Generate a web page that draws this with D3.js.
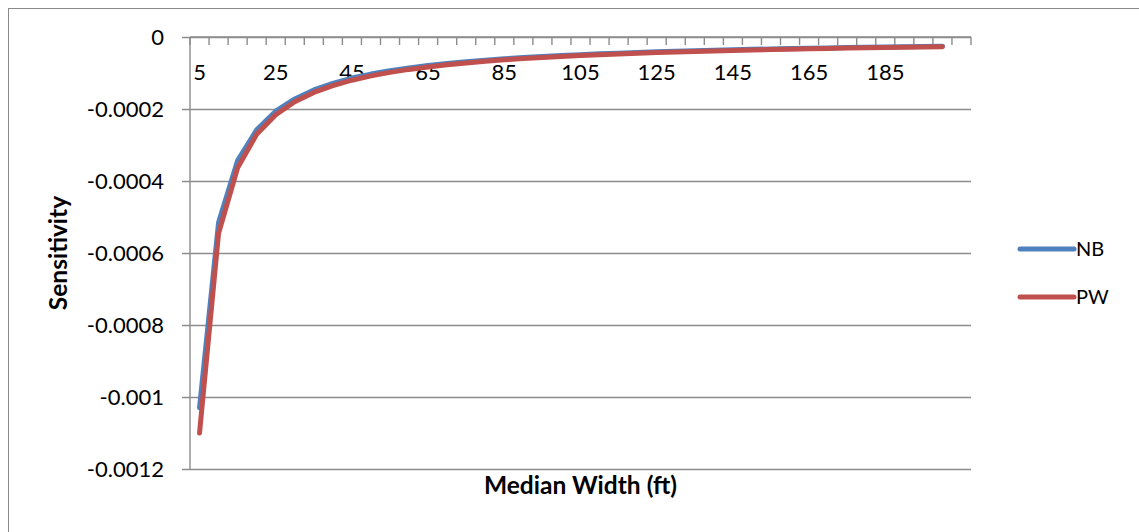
<!DOCTYPE html>
<html>
<head>
<meta charset="utf-8">
<script src="https://cdn.jsdelivr.net/npm/d3@7"></script>
<style>
  html, body { margin: 0; padding: 0; background: #fff; }
  svg { display: block; font-family: Lato, "Open Sans", sans-serif; }
</style>
</head>
<body>
<svg id="chart" width="1139" height="532"></svg>
<script>
// Median width categories (ft); the last slot is an empty category
const widths = [5, 10, 15, 20, 25, 30, 35, 40, 45, 50, 55, 60, 65, 70, 75, 80, 85, 90, 95, 100,
  105, 110, 115, 120, 125, 130, 135, 140, 145, 150, 155, 160, 165, 170, 175, 180, 185, 190, 195, 200, ""];

const nbValues = [-0.00103, -0.000515, -0.000343, -0.000258, -0.000206, -0.000172, -0.000147, -0.000129,
  -0.000114, -0.000103, -0.0000936, -0.0000858, -0.0000792, -0.0000736, -0.0000687, -0.0000644,
  -0.0000606, -0.0000572, -0.0000542, -0.0000515, -0.000049, -0.0000468, -0.0000448, -0.0000429,
  -0.0000412, -0.0000396, -0.0000381, -0.0000368, -0.0000355, -0.0000343, -0.0000332, -0.0000322,
  -0.0000312, -0.0000303, -0.0000294, -0.0000286, -0.0000278, -0.0000271, -0.0000264, -0.0000258];

const pwValues = [-0.0011, -0.000545, -0.000363, -0.00027, -0.000216, -0.00018, -0.000154, -0.000135,
  -0.00012, -0.000108, -0.0000982, -0.00009, -0.0000831, -0.0000771, -0.000072, -0.0000675,
  -0.0000635, -0.00006, -0.0000568, -0.000054, -0.0000514, -0.0000491, -0.000047, -0.000045,
  -0.0000432, -0.0000415, -0.00004, -0.0000386, -0.0000372, -0.000036, -0.0000348, -0.0000338,
  -0.0000327, -0.0000318, -0.0000309, -0.00003, -0.0000292, -0.0000284, -0.0000277, -0.000027];

const yTicks = [0, -0.0002, -0.0004, -0.0006, -0.0008, -0.001, -0.0012];
const yTickLabels = ["0", "-0.0002", "-0.0004", "-0.0006", "-0.0008", "-0.001", "-0.0012"];

const seriesNames = ["NB", "PW"];
const seriesColors = ["#4F81BD", "#C0504D"];

const svg = d3.select("#chart");
const plot = { left: 190, right: 971, top: 37, bottom: 469 };
const tickFont = 22;
const titleFont = 24.5;

// outer chart frame
svg.append("rect")
  .attr("x", 8.5).attr("y", 8.5)
  .attr("width", 1200).attr("height", 600)
  .attr("fill", "none").attr("stroke", "#8a8a8a").attr("stroke-width", 1);

const x = d3.scaleBand()
  .domain(d3.range(widths.length))
  .range([plot.left, plot.right])
  .paddingInner(0).paddingOuter(0);

const y = d3.scaleLinear()
  .domain([-0.0012, 0])
  .range([plot.bottom, plot.top]);

const gridColor = "#8c8c8c";

// horizontal gridlines with outside tick marks
const yAxis = d3.axisLeft(y)
  .tickValues(yTicks)
  .tickSize(-(plot.right - plot.left))
  .tickSizeOuter(0)
  .tickPadding(26)
  .tickFormat((d, i) => yTickLabels[i]);

const gy = svg.append("g")
  .attr("transform", `translate(${plot.left},0)`)
  .call(yAxis);
gy.select(".domain").remove();
gy.selectAll(".tick line")
  .attr("x1", -8)
  .attr("stroke", gridColor)
  .attr("stroke-width", 1.4);
gy.selectAll(".tick text")
  .attr("font-size", tickFont)
  .attr("fill", "#000")
  .attr("font-family", "Lato, 'Open Sans', sans-serif");

// vertical value axis line
svg.append("line")
  .attr("x1", plot.left).attr("x2", plot.left)
  .attr("y1", plot.top).attr("y2", plot.bottom)
  .attr("stroke", gridColor).attr("stroke-width", 1.4);

// category axis sits at y = 0 (top), tick marks between categories
const gx = svg.append("g").attr("transform", `translate(0,${y(0)})`);
const boundaries = d3.range(widths.length + 1).map(i =>
  i < widths.length ? x(i) : x(widths.length - 1) + x.bandwidth());
gx.selectAll("line.cat-tick")
  .data(boundaries)
  .join("line")
  .attr("class", "cat-tick")
  .attr("x1", d => d).attr("x2", d => d)
  .attr("y1", 0).attr("y2", 8)
  .attr("stroke", gridColor).attr("stroke-width", 1.4);
gx.append("line")
  .attr("x1", plot.left).attr("x2", plot.right)
  .attr("y1", 0).attr("y2", 0)
  .attr("stroke", gridColor).attr("stroke-width", 1.4);
gx.selectAll("text.cat-label")
  .data(widths.map((w, i) => ({ w, i })).filter(d => d.i % 4 === 0 && d.w !== ""))
  .join("text")
  .attr("class", "cat-label")
  .attr("x", d => x(d.i) + x.bandwidth() / 2)
  .attr("y", 43)
  .attr("text-anchor", "middle")
  .attr("font-size", tickFont)
  .attr("fill", "#000")
  .text(d => d.w);

// series lines
const line = d3.line()
  .x((d, i) => x(i) + x.bandwidth() / 2)
  .y(d => y(d));

[nbValues, pwValues].forEach((vals, k) => {
  svg.append("path")
    .datum(vals)
    .attr("d", line)
    .attr("fill", "none")
    .attr("stroke", seriesColors[k])
    .attr("stroke-width", 5)
    .attr("stroke-linejoin", "round")
    .attr("stroke-linecap", "round");
});

// axis titles
svg.append("text")
  .attr("x", (plot.left + plot.right) / 2)
  .attr("y", 494)
  .attr("text-anchor", "middle")
  .attr("font-size", titleFont)
  .attr("font-weight", "bold")
  .text("Median Width (ft)");

svg.append("text")
  .attr("transform", `translate(67,${(plot.top + plot.bottom) / 2}) rotate(-90)`)
  .attr("text-anchor", "middle")
  .attr("font-size", titleFont)
  .attr("font-weight", "bold")
  .text("Sensitivity");

// legend
const legend = svg.append("g");
seriesNames.forEach((name, k) => {
  const ly = 249 + k * 48;
  legend.append("line")
    .attr("x1", 1020).attr("x2", 1074)
    .attr("y1", ly).attr("y2", ly)
    .attr("stroke", seriesColors[k])
    .attr("stroke-width", 5)
    .attr("stroke-linecap", "round");
  legend.append("text")
    .attr("x", 1076).attr("y", ly + 7)
    .attr("font-size", 20)
    .text(name);
});
</script>
</body>
</html>
